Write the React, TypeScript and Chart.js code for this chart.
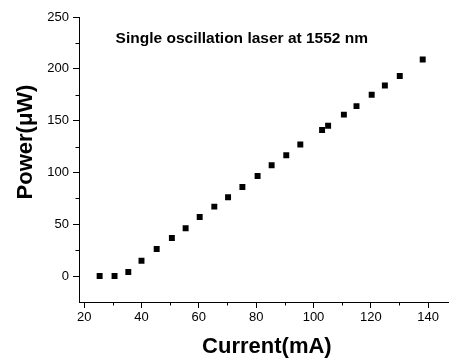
import React, { useEffect, useRef } from 'react';
import { Chart, registerables } from 'chart.js';

Chart.register(...registerables);

// ---- data ----
const current = [25.4, 30.6, 35.4, 40, 45.3, 50.6, 55.4, 60.3, 65.4, 70.2, 75.2, 80.5, 85.4, 90.5, 95.4, 103, 105.1, 110.6, 115, 120.3, 124.9, 130.1, 138.1];
const power = [0, 0, 3.9, 14.8, 26.1, 36.7, 46.1, 57, 67, 76, 86, 96.6, 107, 116.6, 126.9, 141, 145, 155.8, 164, 174.9, 183.9, 193, 209];

const xTicks = [20, 40, 60, 80, 100, 120, 140];
const xMinorTicks = [30, 50, 70, 90, 110, 130];
const yTicks = [0, 50, 100, 150, 200, 250];
const yMinorTicks = [25, 75, 125, 175, 225];

const titleText = 'Single oscillation laser at 1552 nm';
const xTitle = 'Current(mA)';
const yTitle = 'Power(\u03bcW)';

const FONT = '"Liberation Sans", Arial, Helvetica, sans-serif';

const annotate = {
  id: 'annotate',
  afterDraw(chart: any) {
    const { ctx, chartArea, scales } = chart;
    const x = scales.x;
    const y = scales.y;
    ctx.save();
    // minor ticks
    ctx.strokeStyle = '#000';
    ctx.lineWidth = 1;
    ctx.beginPath();
    xMinorTicks.forEach((v) => {
      const px = Math.round(x.getPixelForValue(v)) + 0.5;
      ctx.moveTo(px, chartArea.bottom);
      ctx.lineTo(px, chartArea.bottom + 3.5);
    });
    yMinorTicks.forEach((v) => {
      const py = Math.round(y.getPixelForValue(v)) + 0.5;
      ctx.moveTo(chartArea.left, py);
      ctx.lineTo(chartArea.left - 3.5, py);
    });
    ctx.stroke();

    ctx.fillStyle = '#000';
    ctx.textAlign = 'center';
    ctx.textBaseline = 'middle';
    // in-plot title
    ctx.font = `bold 15.5px ${FONT}`;
    ctx.fillText(titleText, x.getPixelForValue(75), y.getPixelForValue(229));
    // x axis title
    ctx.font = `bold 22px ${FONT}`;
    ctx.fillText(xTitle, (chartArea.left + chartArea.right) / 2 + 3, 347);
    // y axis title
    ctx.translate(26, 142);
    ctx.rotate(-Math.PI / 2);
    ctx.fillText(yTitle, 0, 0);
    ctx.restore();
  },
};

export default function App() {
  const ref = useRef<HTMLCanvasElement>(null);

  useEffect(() => {
    document.body.style.margin = '0';
    const canvas = ref.current;
    if (!canvas) return;
    const chart = new Chart(canvas, {
      type: 'scatter',
      data: {
        datasets: [
          {
            data: current.map((c, i) => ({ x: c, y: power[i] })),
            pointStyle: 'rect',
            pointRadius: 4.2,
            pointHoverRadius: 4.2,
            backgroundColor: '#000',
            borderColor: '#000',
            borderWidth: 0,
            showLine: false,
          },
        ],
      },
      options: {
        animation: false,
        responsive: false,
        devicePixelRatio: 1,
        layout: { padding: { top: 17, right: 0, bottom: 0, left: 0 } },
        plugins: {
          legend: { display: false },
          tooltip: { enabled: false },
          title: { display: false },
        },
        scales: {
          x: {
            type: 'linear',
            min: 18.2,
            max: 147.2,
            afterBuildTicks: (s: any) => {
              s.ticks = xTicks.map((v) => ({ value: v }));
            },
            afterFit: (s: any) => {
              s.height = 56;
              s.paddingLeft = 0;
              s.paddingRight = 0;
            },
            grid: {
              display: true,
              drawOnChartArea: false,
              drawTicks: true,
              tickLength: 6,
              color: '#000',
              tickColor: '#000',
              lineWidth: 1,
            },
            border: { display: true, color: '#000', width: 1 },
            ticks: {
              color: '#000',
              padding: 2,
              maxRotation: 0,
              autoSkip: false,
              font: { family: FONT, size: 13 },
            },
          },
          y: {
            type: 'linear',
            min: -25,
            max: 250,
            afterBuildTicks: (s: any) => {
              s.ticks = yTicks.map((v) => ({ value: v }));
            },
            afterFit: (s: any) => {
              s.width = 79;
              s.paddingTop = 0;
              s.paddingBottom = 0;
            },
            grid: {
              display: true,
              drawOnChartArea: false,
              drawTicks: true,
              tickLength: 6,
              color: '#000',
              tickColor: '#000',
              lineWidth: 1,
            },
            border: { display: true, color: '#000', width: 1 },
            ticks: {
              color: '#000',
              padding: 4,
              autoSkip: false,
              font: { family: FONT, size: 13 },
            },
          },
        },
      },
      plugins: [annotate],
    } as any);
    return () => chart.destroy();
  }, []);

  return <canvas ref={ref} width={453} height={358} style={{ display: 'block' }} />;
}
